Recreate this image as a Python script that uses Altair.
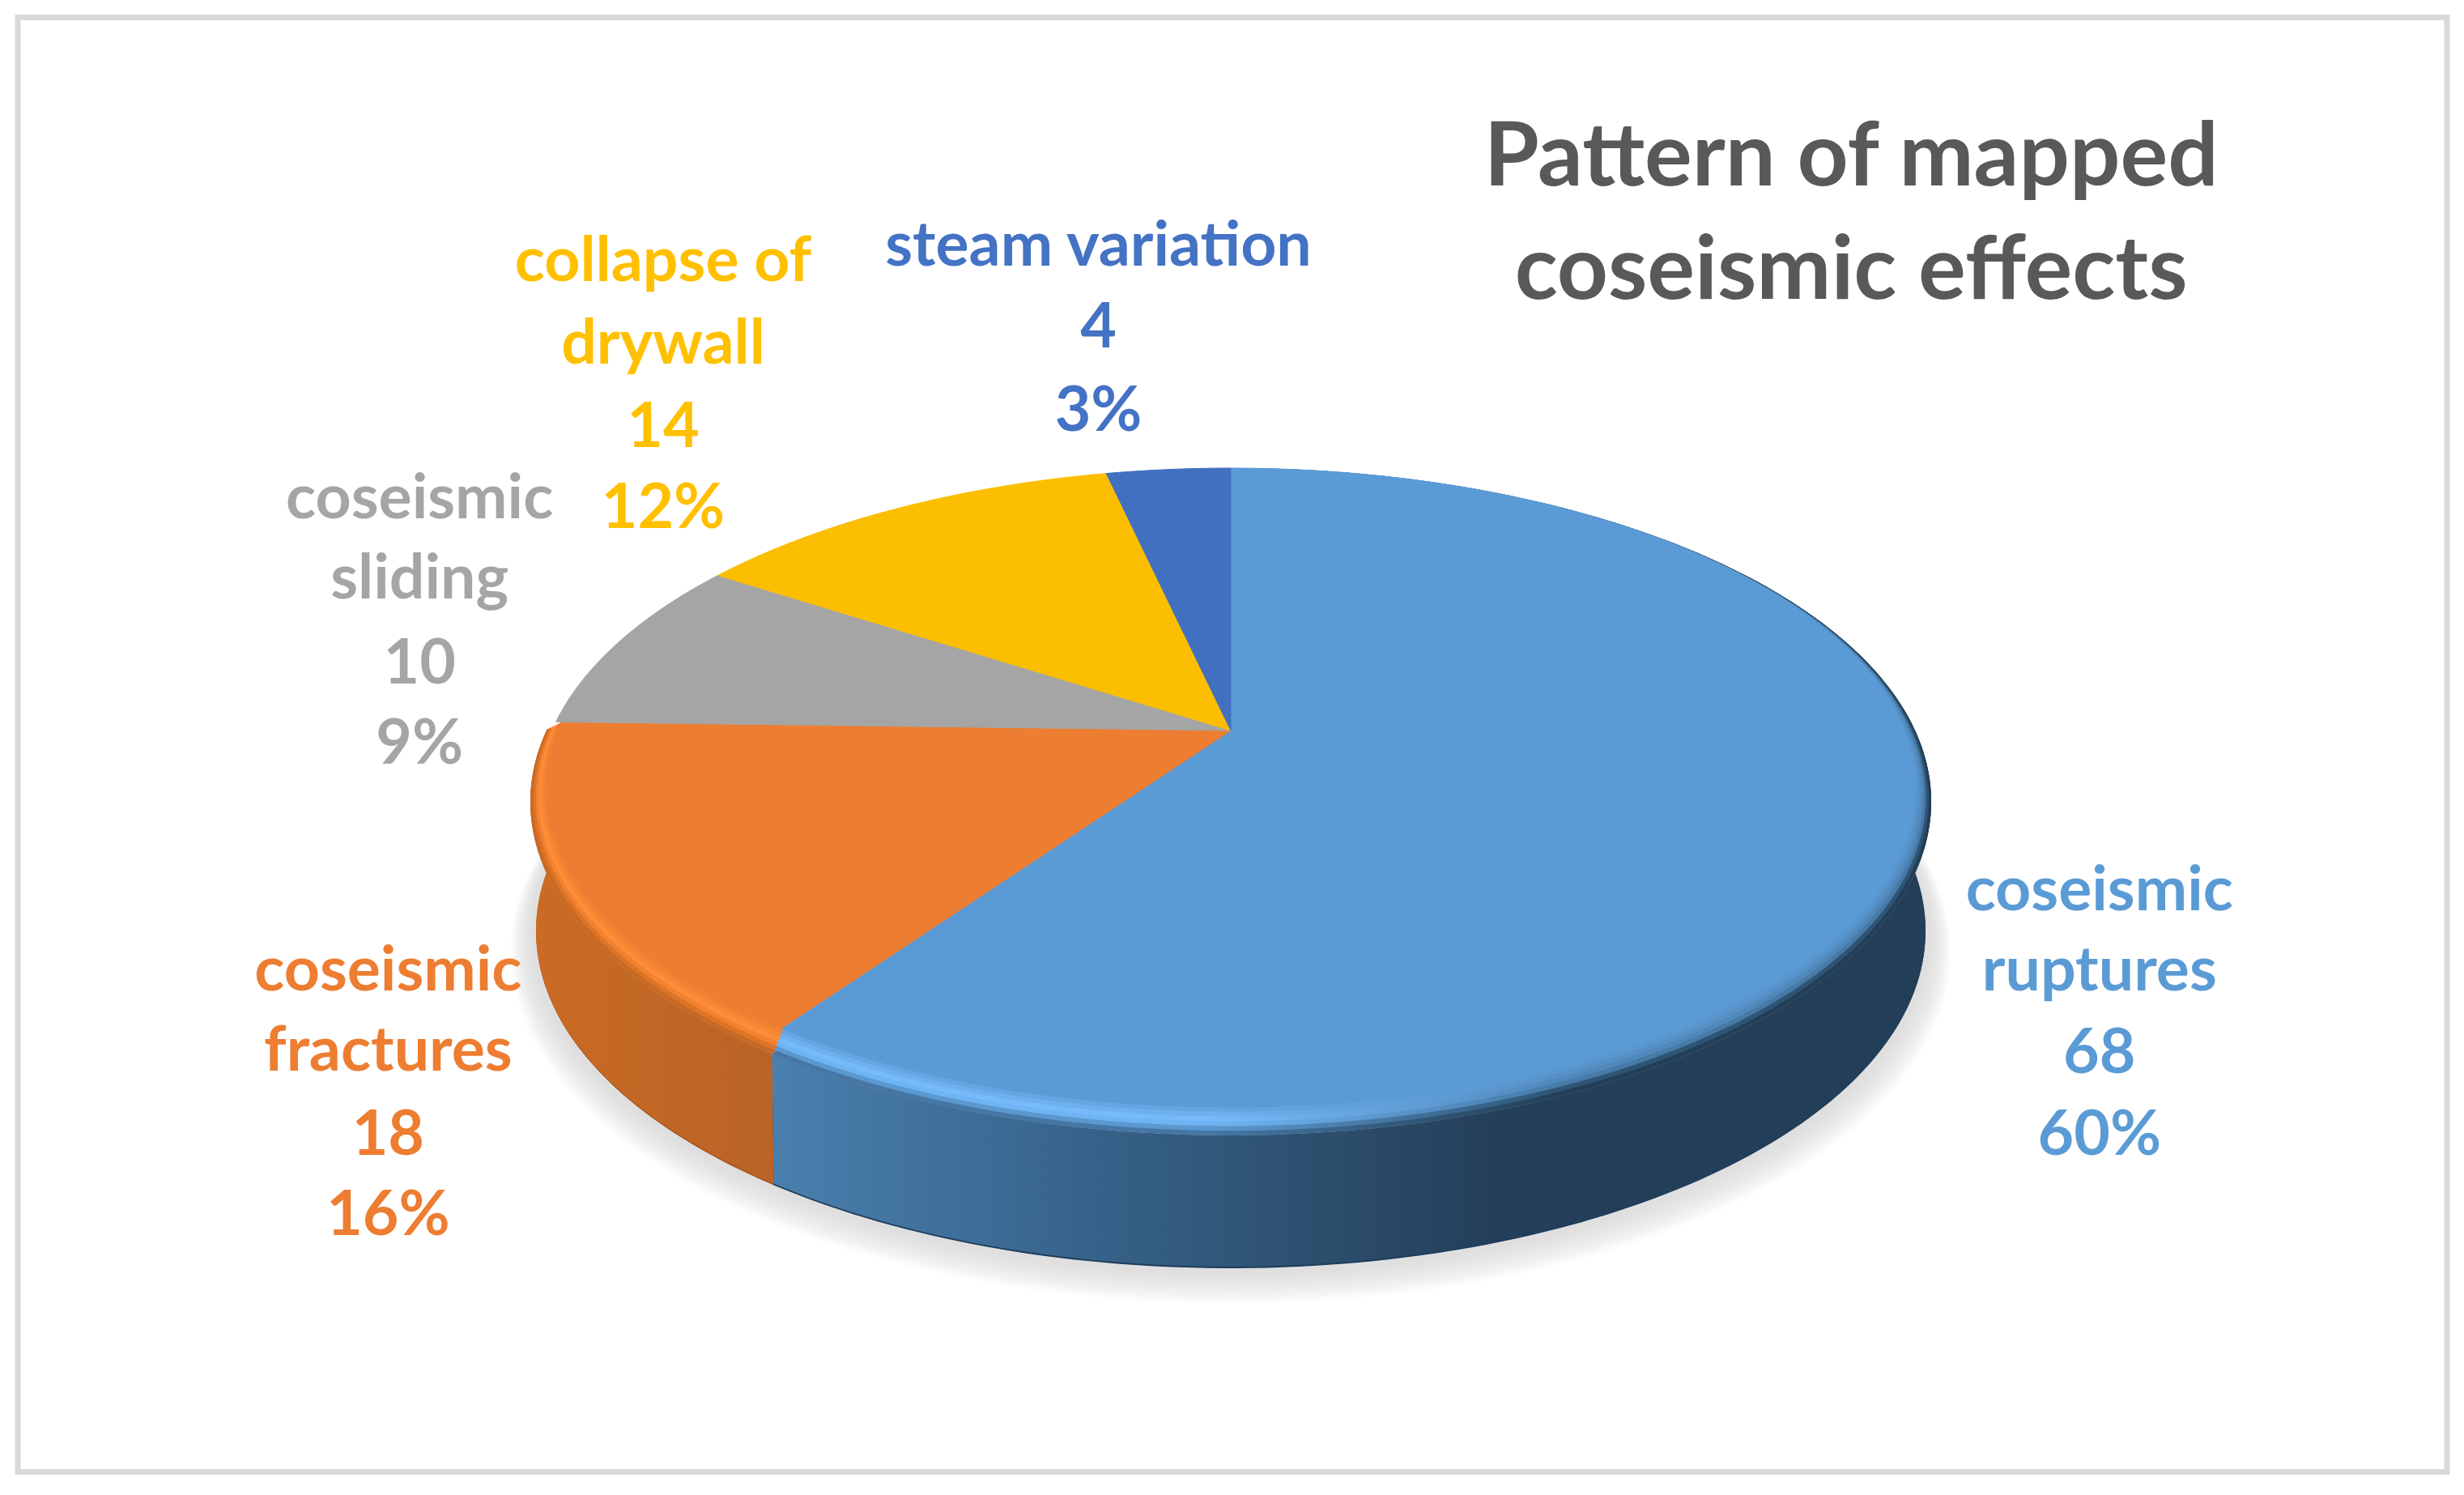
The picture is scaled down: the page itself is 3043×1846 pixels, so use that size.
import math
import altair as alt
import pandas as pd

# ---- values -----------------------------------------------------------
CATEGORIES = ["coseismic ruptures", "coseismic fractures", "coseismic sliding",
              "collapse of drywall", "steam variation"]
NAME_LINES = [["coseismic", "ruptures"], ["coseismic", "fractures"], ["coseismic", "sliding"],
              ["collapse of", "drywall"], ["steam variation"]]
COUNTS = [68, 18, 10, 14, 4]
PERCENTS = ["60%", "16%", "9%", "12%", "3%"]
TITLE_LINES = ["Pattern of mapped", "coseismic effects"]

# ---- styles ------------------------------------------------------------
FACE = ["#5B9BD5", "#ED7D31", "#A5A5A5", "#FBBE00", "#4270C0"]
TEXT = ["#5B9BD5", "#ED7D31", "#A5A5A5", "#FFC000", "#4472C4"]
TITLE_COLOR = "#595959"

# ---- layout (page pixels) ----------------------------------------------
W, H = 3027, 1830
APEX = (1520, 902)
TOP = 578
FONT = "Lato"
LABEL_SIZE = 77
TITLE_SIZE = 110
K = 3043 / 1568
LABEL_POS = [(1336, [579, 630, 683, 735]), (247, [630, 681, 735, 786]),
             (267, [330, 381, 435, 486]), (422, [179, 231.5, 284.5, 336]),
             (699, [169, 221, 274])]
TITLE_POS = (1178, [118, 190])


def level(halfw, bottom, drop=0.0):
    above = APEX[1] - TOP
    below = bottom - drop - APEX[1]
    p = (below - above) / (below + above)
    b = above * (1 + p)
    a = halfw * math.sqrt(1 - p * p)

    def pt(deg):
        t = math.radians(deg)
        u, v = math.sin(t), math.cos(t)
        d = 1 + p * v
        return [a * u / d, b * v / d - drop]
    return pt


def arc(pt, a0, a1):
    n = max(2, int(abs(a1 - a0)) + 1)
    return [pt(a0 + (a1 - a0) * i / n) for i in range(n + 1)]


def feature(ring):
    ring = ring + [ring[0]]
    return {"type": "Feature", "properties": {}, "geometry": {"type": "Polygon", "coordinates": [ring]}}


def slice_poly(i, pt, rot=0.0):
    a0, a1 = ANGLES[i], ANGLES[i + 1]
    return feature([[0.0, 0.0]] + arc(pt, a0 + (rot if i else 0), a1 + rot))


def wall_poly(i, up, low, rot=-1.3):
    a0, a1 = ANGLES[i] + (rot if i else 0), ANGLES[i + 1] + rot
    return feature(arc(up, a0, a1) + arc(low, a1, a0))


total = sum(COUNTS)
ANGLES = [0.0]
for c in COUNTS:
    ANGLES.append(ANGLES[-1] + 360.0 * c / total)

PROJ = dict(type="identity", scale=1, reflectY=True, translate=[APEX[0] - 8, APEX[1] - 8])


def shape(feats, **mark):
    return (alt.Chart(alt.Data(values=feats)).mark_geoshape(**mark).project(**PROJ))


def grad(stops):
    return alt.Gradient(gradient="linear", x1=0, x2=1, y1=0, y2=0,
                        stops=[alt.GradientStop(offset=o, color=c) for o, c in stops])


layers = []

# frame
layers.append(alt.Chart(pd.DataFrame({"f": [0]})).mark_rect(filled=False, stroke="#d9d9d9", strokeWidth=7).encode(
    x=alt.value(14), x2=alt.value(3014), y=alt.value(13.5), y2=alt.value(1809.5)))

# soft shadow: nested translucent silhouettes of the pie's foot
for j in range(16, 0, -1):
    f = (j / 16) ** 0.6
    sh = level(858 + 32 * f, 1564 + 46 * f, drop=156 + 8 * f)
    layers.append(shape([feature(arc(sh, 0, 360))], fill="#000000", fillOpacity=0.0095, strokeWidth=0))

# wall
UP = level(865, 1402)
LOW = level(858, 1564, drop=156)
LOW_EDGE = level(858, 1566, drop=156)
layers.append(shape([wall_poly(0, UP, LOW_EDGE)], fill="#1d3c5c", strokeWidth=0))
layers.append(shape([wall_poly(1, UP, LOW_EDGE)], fill="#a4541f", strokeWidth=0))
layers.append(shape([wall_poly(0, UP, LOW)], strokeWidth=0, fill=grad(
    [(0, "#4a7fae"), (0.26, "#37648c"), (0.44, "#2e5272"), (0.62, "#243f5a"), (1, "#233e57")])))
layers.append(shape([wall_poly(1, UP, LOW)], strokeWidth=0, fill=grad(
    [(0, "#cb6b24"), (1, "#b96327")])))

# bevel: nested outlines from the wall colour to the face colour
BLUE_RIM = [("#4676a4", "#233f58"), ("#5a98d0", "#2f5474"), ("#6fb4f2", "#467aa8"),
            ("#76bafa", "#5088ba"), ("#6eb0ee", "#5690c6"), ("#64a6e2", "#5997d0")]
ORANGE_RIM = ["#c96a24", "#dc7428", "#f2822f", "#ff8c38", "#f88733", "#f08032"]
N = len(BLUE_RIM)
for k in range(N):
    s = k / N
    pt = level(865 - 20 * s, 1402 - 35 * s)
    rot = -1.3 * (1 - s)
    left, right = BLUE_RIM[k]
    layers.append(shape([slice_poly(0, pt, rot)], strokeWidth=0,
                        fill=grad([(0, left), (0.38, left), (0.68, right), (1, right)])))
    layers.append(shape([slice_poly(1, pt, rot)], fill=ORANGE_RIM[k], strokeWidth=0))

# flat top faces
INNER = level(845, 1367)
BACK = level(855, 1385)
for i in range(len(COUNTS)):
    pt = INNER if i < 2 else BACK
    layers.append(shape([slice_poly(i, pt)], fill=FACE[i], stroke=FACE[i], strokeWidth=1))

# labels
rows = []
for i in range(len(COUNTS)):
    lines = NAME_LINES[i] + [str(COUNTS[i]), PERCENTS[i]]
    cx, ys = LABEL_POS[i]
    for line, y in zip(lines, ys):
        rows.append({"x": cx * K - 8, "y": y * K - 8, "t": line, "c": TEXT[i]})
layers.append(alt.Chart(pd.DataFrame(rows)).mark_text(
    font=FONT, fontWeight="bold", fontSize=LABEL_SIZE, align="center", baseline="alphabetic").encode(
    x=alt.X("x:Q", scale=None), y=alt.Y("y:Q", scale=None), text="t:N", color=alt.Color("c:N", scale=None)))

trows = [{"x": TITLE_POS[0] * K - 8, "y": y * K - 8, "t": t} for t, y in zip(TITLE_LINES, TITLE_POS[1])]
layers.append(alt.Chart(pd.DataFrame(trows)).mark_text(
    font=FONT, fontWeight="bold", fontSize=TITLE_SIZE, align="center", baseline="alphabetic", color=TITLE_COLOR).encode(
    x=alt.X("x:Q", scale=None), y=alt.Y("y:Q", scale=None), text="t:N"))

chart = alt.layer(*layers).properties(
    width=W, height=H, padding=0, autosize=alt.AutoSizeParams(type="none"), background="white"
).configure_view(stroke=None)

chart.save("out.html", embed_options={"renderer": "svg", "actions": False})
